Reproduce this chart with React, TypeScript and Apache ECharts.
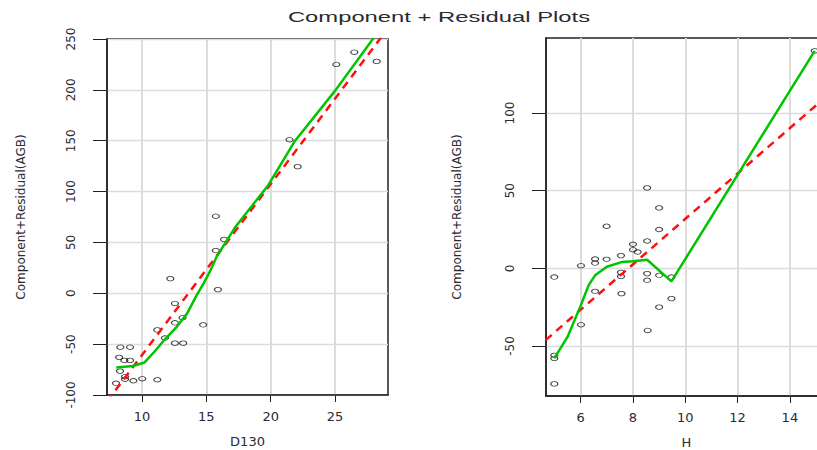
import React, { useEffect, useRef } from "react";
import * as echarts from "echarts";

const titleText = "Component + Residual Plots";
const yName = "Component+Residual(AGB)";
const xNameLeft = "D130";
const xNameRight = "H";

const leftXTicks = [10, 15, 20, 25];
const leftYTicks = [-100, -50, 0, 50, 100, 150, 200, 250];
const rightXTicks = [6, 8, 10, 12, 14];
const rightYTicks = [-50, 0, 50, 100];

// Left panel: D130 vs component+residual
const d130 = [15.9, 12.56, 13.15, 12.56, 14.75, 11.19, 11.78, 12.56, 13.2, 8.32, 9.07, 8.22, 8.63, 9.07, 8.29, 8.68, 8.68, 9.33, 10.02, 11.19, 7.98, 12.2, 15.74, 16.38, 15.74, 26.5, 25.1, 28.24, 21.47, 22.1];
const crD130 = [3.6, -10, -24, -29, -31, -36, -44, -49, -49, -53, -53, -63, -66, -66, -76.5, -82, -84.5, -86, -84, -85, -88.5, 14.4, 75.8, 53, 42, 237, 225, 228, 151, 124.5];
const lowessD130X = [8.0, 9.3, 10.2, 11.0, 11.8, 12.7, 13.5, 14.2, 14.8, 15.3, 15.8, 17.3, 19.8, 21.9, 25.0, 28.0];
const lowessD130Y = [-73, -71.5, -68, -57, -45, -33, -20, -3, 10, 22, 36, 66, 106, 150, 199, 251];
const fitD130X = [7.28, 29.12];
const fitD130Y = [-106.4, 260.5];

// Right panel: H vs component+residual
const hVals = [8.54, 9.0, 6.99, 9.0, 8.54, 8.0, 8.0, 8.18, 7.54, 6.99, 6.55, 6.55, 6.01, 4.99, 7.54, 7.54, 8.54, 8.54, 9.0, 9.47, 6.55, 7.56, 9.47, 9.0, 6.01, 8.56, 4.99, 4.99, 4.99, 14.95];
const crH = [51.8, 38.9, 27.1, 25, 17.6, 15.5, 12, 10.5, 8.2, 5.8, 6, 3.4, 1.7, -5.6, -2.6, -5.2, -3.4, -7.7, -4.5, -5.6, -14.8, -16.3, -19.5, -25, -36.3, -40, -56, -58, -74.4, 140];
const lowessHX = [4.99, 5.5, 6.0, 6.3, 6.55, 7.0, 7.56, 8.0, 8.54, 9.47, 14.95];
const lowessHY = [-58, -44, -24, -11, -4.5, 1, 4, 4.5, 5.5, -8.4, 140];
const fitHX = [4.66, 15.42];
const fitHY = [-46.2, 111];

const zip = (xs: number[], ys: number[]) => xs.map((x, i) => [x, ys[i]]);

const FONT = "DejaVu Sans";
const TEXT = "#2a2a33";
const GRIDC = "#dcdcdc";
const GREEN = "#00c400";
const RED = "#ff1010";

function xAxisCfg(grid: number, min: number, max: number, ticks: number[], name: string, gap: number) {
  return {
    type: "value",
    gridIndex: grid,
    min,
    max,
    name,
    nameLocation: "middle",
    nameGap: gap,
    nameTextStyle: { fontFamily: FONT, fontSize: 13, color: TEXT },
    axisLine: { show: true, onZero: false, lineStyle: { color: "#222", width: 1.5 } },
    axisTick: { show: true, customValues: ticks, length: 7, lineStyle: { color: "#222", width: 1 } },
    axisLabel: { customValues: ticks, margin: 15, fontFamily: FONT, fontSize: 13, color: TEXT },
    splitLine: { show: true, lineStyle: { color: GRIDC, width: 2 } },
  };
}

function yAxisCfg(grid: number, min: number, max: number, ticks: number[], name: string, gap: number) {
  return {
    type: "value",
    gridIndex: grid,
    min,
    max,
    name,
    nameLocation: "middle",
    nameGap: gap,
    nameRotate: 90,
    nameTextStyle: { fontFamily: FONT, fontSize: 12, color: TEXT },
    axisLine: { show: true, onZero: false, lineStyle: { color: "#222", width: 1.5 } },
    axisTick: { show: true, customValues: ticks, length: 14, lineStyle: { color: "#222", width: 1 } },
    axisLabel: { customValues: ticks, rotate: 90, margin: 30, fontFamily: FONT, fontSize: 12, color: TEXT },
    splitLine: { show: true, lineStyle: { color: GRIDC, width: 1.3 } },
  };
}

function scatter(grid: number, xs: number[], ys: number[]) {
  return {
    type: "scatter",
    xAxisIndex: grid,
    yAxisIndex: grid,
    data: zip(xs, ys),
    symbol: "circle",
    symbolSize: [7, 4.5],
    itemStyle: { color: "rgba(0,0,0,0)", borderColor: "#111", borderWidth: 1 },
    z: 2,
    silent: true,
  };
}

function line(grid: number, xs: number[], ys: number[], color: string, dashed: boolean) {
  return {
    type: "line",
    xAxisIndex: grid,
    yAxisIndex: grid,
    data: zip(xs, ys),
    showSymbol: false,
    symbol: "none",
    clip: true,
    lineStyle: { color, width: 2.5, type: dashed ? [8, 6] : "solid" },
    z: dashed ? 3 : 4,
    silent: true,
  };
}

export default function App() {
  const ref = useRef<HTMLDivElement>(null);
  useEffect(() => {
    if (!ref.current) return;
    const chart = echarts.init(ref.current, undefined, { renderer: "svg" });
    chart.setOption({
      animation: false,
      backgroundColor: "#ffffff",
      textStyle: { fontFamily: FONT },
      graphic: [
        {
          type: "text",
          x: 439,
          y: 17,
          scaleX: 1.7,
          style: {
            text: titleText,
            fontSize: 14,
            fontFamily: "Liberation Sans",
            fill: TEXT,
            align: "center",
            verticalAlign: "middle",
            textAlign: "center",
            textVerticalAlign: "middle",
          },
        },
      ],
      grid: [
        { left: 107, right: 429, top: 39, bottom: 55, show: true, borderColor: "#222", borderWidth: 1.5, outerBoundsMode: "none", containLabel: false },
        { left: 546, right: -10, top: 38, bottom: 54, show: true, borderColor: "#222", borderWidth: 1.5, outerBoundsMode: "none", containLabel: false },
      ],
      xAxis: [
        xAxisCfg(0, 7.28, 29.12, leftXTicks, xNameLeft, 40),
        xAxisCfg(1, 4.673, 15.42, rightXTicks, xNameRight, 40),
      ],
      yAxis: [
        yAxisCfg(0, -100, 250, leftYTicks, yName, 80),
        yAxisCfg(1, -82.19, 148.28, rightYTicks, yName, 83),
      ],
      series: [
        scatter(0, d130, crD130),
        line(0, fitD130X, fitD130Y, RED, true),
        line(0, lowessD130X, lowessD130Y, GREEN, false),
        scatter(1, hVals, crH),
        line(1, fitHX, fitHY, RED, true),
        line(1, lowessHX, lowessHY, GREEN, false),
      ],
    });
    return () => chart.dispose();
  }, []);
  return (
    <div
      ref={ref}
      style={{ position: "absolute", left: 0, top: 0, width: 817, height: 450, background: "#fff" }}
    />
  );
}
